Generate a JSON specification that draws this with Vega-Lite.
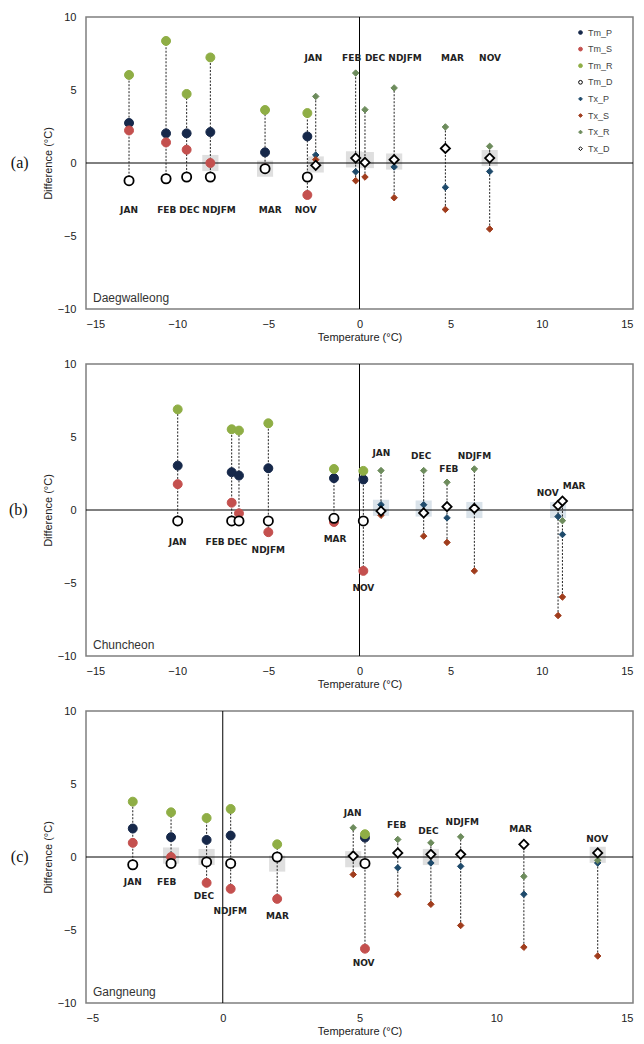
{
"$schema": "https://vega.github.io/schema/vega-lite/v6.json",
"padding": {"left": 8, "top": 10, "right": 2, "bottom": 4},
"background": "white",
"spacing": 55,
"bounds": "flush",
"resolve": {"scale": {"fill": "independent", "stroke": "independent", "shape": "independent"}, "legend": {"fill": "independent", "stroke": "independent", "shape": "independent"}},
"config": {
  "view": {"stroke": "#7f7f7f", "strokeWidth": 1.5},
  "axis": {"labelFont": "Liberation Sans", "labelFontSize": 11, "labelColor": "#222", "titleFont": "Liberation Sans", "titleFontSize": 11, "titleFontWeight": "normal", "titleColor": "#222", "ticks": false, "domain": false, "grid": false},
  "axisX": {"labelPadding": 9, "titlePadding": 2},
  "axisY": {"labelPadding": 10, "titlePadding": 4},
  "legend": {"labelFont": "Liberation Sans", "labelFontSize": 9, "labelColor": "#444", "symbolSize": 14, "symbolStrokeWidth": 1, "rowPadding": 6.6, "labelOffset": 3},
  "title": {"font": "Liberation Serif", "fontSize": 16, "fontWeight": "normal", "color": "#111"}
},
"datasets": {
  "box": [
    {"st":"a","t":-8.18,"d":0.0},
    {"st":"a","t":-5.18,"d":-0.39},
    {"st":"a","t":-2.4,"d":-0.1},
    {"st":"a","t":-0.3,"d":0.25},
    {"st":"a","t":0.35,"d":0.2},
    {"st":"a","t":1.9,"d":0.1},
    {"st":"a","t":7.14,"d":0.34},
    {"st":"b","t":1.18,"d":0.15},
    {"st":"b","t":3.52,"d":0.1},
    {"st":"b","t":6.3,"d":0.0},
    {"st":"b","t":10.89,"d":0.0},
    {"st":"c","t":-1.89,"d":0.1},
    {"st":"c","t":-0.59,"d":0.0},
    {"st":"c","t":1.99,"d":-0.45},
    {"st":"c","t":4.77,"d":-0.15},
    {"st":"c","t":7.61,"d":0.0},
    {"st":"c","t":13.71,"d":0.15}
  ],
  "pts": [
    {"st":"a","m":"JAN","k":"Tm","s":"Tm_P","t":-12.64,"d":2.74},
    {"st":"a","m":"JAN","k":"Tm","s":"Tm_S","t":-12.64,"d":2.23},
    {"st":"a","m":"JAN","k":"Tm","s":"Tm_R","t":-12.64,"d":6.03},
    {"st":"a","m":"JAN","k":"Tm","s":"Tm_D","t":-12.64,"d":-1.21},
    {"st":"a","m":"FEB","k":"Tm","s":"Tm_P","t":-10.61,"d":2.03},
    {"st":"a","m":"FEB","k":"Tm","s":"Tm_S","t":-10.61,"d":1.41},
    {"st":"a","m":"FEB","k":"Tm","s":"Tm_R","t":-10.61,"d":8.36},
    {"st":"a","m":"FEB","k":"Tm","s":"Tm_D","t":-10.61,"d":-1.08},
    {"st":"a","m":"DEC","k":"Tm","s":"Tm_P","t":-9.48,"d":2.03},
    {"st":"a","m":"DEC","k":"Tm","s":"Tm_S","t":-9.48,"d":0.91},
    {"st":"a","m":"DEC","k":"Tm","s":"Tm_R","t":-9.48,"d":4.73},
    {"st":"a","m":"DEC","k":"Tm","s":"Tm_D","t":-9.48,"d":-0.96},
    {"st":"a","m":"NDJFM","k":"Tm","s":"Tm_P","t":-8.18,"d":2.12},
    {"st":"a","m":"NDJFM","k":"Tm","s":"Tm_S","t":-8.18,"d":0.0},
    {"st":"a","m":"NDJFM","k":"Tm","s":"Tm_R","t":-8.18,"d":7.23},
    {"st":"a","m":"NDJFM","k":"Tm","s":"Tm_D","t":-8.18,"d":-0.96},
    {"st":"a","m":"MAR","k":"Tm","s":"Tm_P","t":-5.18,"d":0.73},
    {"st":"a","m":"MAR","k":"Tm","s":"Tm_S","t":-5.18,"d":-0.38},
    {"st":"a","m":"MAR","k":"Tm","s":"Tm_R","t":-5.18,"d":3.63},
    {"st":"a","m":"MAR","k":"Tm","s":"Tm_D","t":-5.18,"d":-0.39},
    {"st":"a","m":"NOV","k":"Tm","s":"Tm_P","t":-2.86,"d":1.82},
    {"st":"a","m":"NOV","k":"Tm","s":"Tm_S","t":-2.86,"d":-2.19},
    {"st":"a","m":"NOV","k":"Tm","s":"Tm_R","t":-2.86,"d":3.42},
    {"st":"a","m":"NOV","k":"Tm","s":"Tm_D","t":-2.86,"d":-0.96},
    {"st":"a","m":"JAN","k":"Tx","s":"Tx_P","t":-2.4,"d":0.55},
    {"st":"a","m":"JAN","k":"Tx","s":"Tx_S","t":-2.4,"d":0.23},
    {"st":"a","m":"JAN","k":"Tx","s":"Tx_R","t":-2.4,"d":4.56},
    {"st":"a","m":"JAN","k":"Tx","s":"Tx_D","t":-2.4,"d":-0.16},
    {"st":"a","m":"FEB","k":"Tx","s":"Tx_P","t":-0.21,"d":-0.6},
    {"st":"a","m":"FEB","k":"Tx","s":"Tx_S","t":-0.21,"d":-1.21},
    {"st":"a","m":"FEB","k":"Tx","s":"Tx_R","t":-0.21,"d":6.16},
    {"st":"a","m":"FEB","k":"Tx","s":"Tx_D","t":-0.21,"d":0.34},
    {"st":"a","m":"DEC","k":"Tx","s":"Tx_P","t":0.3,"d":0.1},
    {"st":"a","m":"DEC","k":"Tx","s":"Tx_S","t":0.3,"d":-0.96},
    {"st":"a","m":"DEC","k":"Tx","s":"Tx_R","t":0.3,"d":3.65},
    {"st":"a","m":"DEC","k":"Tx","s":"Tx_D","t":0.3,"d":0.04},
    {"st":"a","m":"NDJFM","k":"Tx","s":"Tx_P","t":1.9,"d":-0.27},
    {"st":"a","m":"NDJFM","k":"Tx","s":"Tx_S","t":1.9,"d":-2.38},
    {"st":"a","m":"NDJFM","k":"Tx","s":"Tx_R","t":1.9,"d":5.14},
    {"st":"a","m":"NDJFM","k":"Tx","s":"Tx_D","t":1.9,"d":0.23},
    {"st":"a","m":"MAR","k":"Tx","s":"Tx_P","t":4.71,"d":-1.67},
    {"st":"a","m":"MAR","k":"Tx","s":"Tx_S","t":4.71,"d":-3.18},
    {"st":"a","m":"MAR","k":"Tx","s":"Tx_R","t":4.71,"d":2.47},
    {"st":"a","m":"MAR","k":"Tx","s":"Tx_D","t":4.71,"d":1.0},
    {"st":"a","m":"NOV","k":"Tx","s":"Tx_P","t":7.14,"d":-0.58},
    {"st":"a","m":"NOV","k":"Tx","s":"Tx_S","t":7.14,"d":-4.52},
    {"st":"a","m":"NOV","k":"Tx","s":"Tx_R","t":7.14,"d":1.14},
    {"st":"a","m":"NOV","k":"Tx","s":"Tx_D","t":7.14,"d":0.34},

    {"st":"b","m":"JAN","k":"Tm","s":"Tm_P","t":-9.97,"d":3.04},
    {"st":"b","m":"JAN","k":"Tm","s":"Tm_S","t":-9.97,"d":1.77},
    {"st":"b","m":"JAN","k":"Tm","s":"Tm_R","t":-9.97,"d":6.89},
    {"st":"b","m":"JAN","k":"Tm","s":"Tm_D","t":-9.97,"d":-0.75},
    {"st":"b","m":"FEB","k":"Tm","s":"Tm_P","t":-7.01,"d":2.59},
    {"st":"b","m":"FEB","k":"Tm","s":"Tm_S","t":-7.01,"d":0.5},
    {"st":"b","m":"FEB","k":"Tm","s":"Tm_R","t":-7.01,"d":5.53},
    {"st":"b","m":"FEB","k":"Tm","s":"Tm_D","t":-7.01,"d":-0.75},
    {"st":"b","m":"DEC","k":"Tm","s":"Tm_P","t":-6.61,"d":2.36},
    {"st":"b","m":"DEC","k":"Tm","s":"Tm_S","t":-6.61,"d":-0.23},
    {"st":"b","m":"DEC","k":"Tm","s":"Tm_R","t":-6.61,"d":5.44},
    {"st":"b","m":"DEC","k":"Tm","s":"Tm_D","t":-6.61,"d":-0.75},
    {"st":"b","m":"NDJFM","k":"Tm","s":"Tm_P","t":-5.0,"d":2.86},
    {"st":"b","m":"NDJFM","k":"Tm","s":"Tm_S","t":-5.0,"d":-1.52},
    {"st":"b","m":"NDJFM","k":"Tm","s":"Tm_R","t":-5.0,"d":5.94},
    {"st":"b","m":"NDJFM","k":"Tm","s":"Tm_D","t":-5.0,"d":-0.75},
    {"st":"b","m":"MAR","k":"Tm","s":"Tm_P","t":-1.4,"d":2.18},
    {"st":"b","m":"MAR","k":"Tm","s":"Tm_S","t":-1.4,"d":-0.82},
    {"st":"b","m":"MAR","k":"Tm","s":"Tm_R","t":-1.4,"d":2.81},
    {"st":"b","m":"MAR","k":"Tm","s":"Tm_D","t":-1.4,"d":-0.57},
    {"st":"b","m":"NOV","k":"Tm","s":"Tm_P","t":0.21,"d":2.09},
    {"st":"b","m":"NOV","k":"Tm","s":"Tm_S","t":0.21,"d":-4.17},
    {"st":"b","m":"NOV","k":"Tm","s":"Tm_R","t":0.21,"d":2.68},
    {"st":"b","m":"NOV","k":"Tm","s":"Tm_D","t":0.21,"d":-0.75},
    {"st":"b","m":"JAN","k":"Tx","s":"Tx_P","t":1.18,"d":0.36},
    {"st":"b","m":"JAN","k":"Tx","s":"Tx_S","t":1.18,"d":-0.36},
    {"st":"b","m":"JAN","k":"Tx","s":"Tx_R","t":1.18,"d":2.7},
    {"st":"b","m":"JAN","k":"Tx","s":"Tx_D","t":1.18,"d":-0.07},
    {"st":"b","m":"DEC","k":"Tx","s":"Tx_P","t":3.52,"d":0.36},
    {"st":"b","m":"DEC","k":"Tx","s":"Tx_S","t":3.52,"d":-1.79},
    {"st":"b","m":"DEC","k":"Tx","s":"Tx_R","t":3.52,"d":2.7},
    {"st":"b","m":"DEC","k":"Tx","s":"Tx_D","t":3.52,"d":-0.2},
    {"st":"b","m":"FEB","k":"Tx","s":"Tx_P","t":4.8,"d":-0.54},
    {"st":"b","m":"FEB","k":"Tx","s":"Tx_S","t":4.8,"d":-2.22},
    {"st":"b","m":"FEB","k":"Tx","s":"Tx_R","t":4.8,"d":1.9},
    {"st":"b","m":"FEB","k":"Tx","s":"Tx_D","t":4.8,"d":0.23},
    {"st":"b","m":"NDJFM","k":"Tx","s":"Tx_P","t":6.3,"d":0.08},
    {"st":"b","m":"NDJFM","k":"Tx","s":"Tx_S","t":6.3,"d":-4.17},
    {"st":"b","m":"NDJFM","k":"Tx","s":"Tx_R","t":6.3,"d":2.81},
    {"st":"b","m":"NDJFM","k":"Tx","s":"Tx_D","t":6.3,"d":0.11},
    {"st":"b","m":"NOV","k":"Tx","s":"Tx_P","t":10.89,"d":-0.45},
    {"st":"b","m":"NOV","k":"Tx","s":"Tx_S","t":10.89,"d":-7.23},
    {"st":"b","m":"NOV","k":"Tx","s":"Tx_R","t":10.89,"d":0.25},
    {"st":"b","m":"NOV","k":"Tx","s":"Tx_D","t":10.89,"d":0.32},
    {"st":"b","m":"MAR","k":"Tx","s":"Tx_P","t":11.13,"d":-1.68},
    {"st":"b","m":"MAR","k":"Tx","s":"Tx_S","t":11.13,"d":-5.96},
    {"st":"b","m":"MAR","k":"Tx","s":"Tx_R","t":11.13,"d":-0.73},
    {"st":"b","m":"MAR","k":"Tx","s":"Tx_D","t":11.13,"d":0.61},

    {"st":"c","m":"JAN","k":"Tm","s":"Tm_P","t":-3.29,"d":1.95},
    {"st":"c","m":"JAN","k":"Tm","s":"Tm_S","t":-3.29,"d":0.97},
    {"st":"c","m":"JAN","k":"Tm","s":"Tm_R","t":-3.29,"d":3.79},
    {"st":"c","m":"JAN","k":"Tm","s":"Tm_D","t":-3.29,"d":-0.53},
    {"st":"c","m":"FEB","k":"Tm","s":"Tm_P","t":-1.89,"d":1.36},
    {"st":"c","m":"FEB","k":"Tm","s":"Tm_S","t":-1.89,"d":0.0},
    {"st":"c","m":"FEB","k":"Tm","s":"Tm_R","t":-1.89,"d":3.06},
    {"st":"c","m":"FEB","k":"Tm","s":"Tm_D","t":-1.89,"d":-0.44},
    {"st":"c","m":"DEC","k":"Tm","s":"Tm_P","t":-0.59,"d":1.17},
    {"st":"c","m":"DEC","k":"Tm","s":"Tm_S","t":-0.59,"d":-1.77},
    {"st":"c","m":"DEC","k":"Tm","s":"Tm_R","t":-0.59,"d":2.67},
    {"st":"c","m":"DEC","k":"Tm","s":"Tm_D","t":-0.59,"d":-0.34},
    {"st":"c","m":"NDJFM","k":"Tm","s":"Tm_P","t":0.29,"d":1.47},
    {"st":"c","m":"NDJFM","k":"Tm","s":"Tm_S","t":0.29,"d":-2.18},
    {"st":"c","m":"NDJFM","k":"Tm","s":"Tm_R","t":0.29,"d":3.29},
    {"st":"c","m":"NDJFM","k":"Tm","s":"Tm_D","t":0.29,"d":-0.44},
    {"st":"c","m":"MAR","k":"Tm","s":"Tm_P","t":1.99,"d":0.0},
    {"st":"c","m":"MAR","k":"Tm","s":"Tm_S","t":1.99,"d":-2.87},
    {"st":"c","m":"MAR","k":"Tm","s":"Tm_R","t":1.99,"d":0.87},
    {"st":"c","m":"MAR","k":"Tm","s":"Tm_D","t":1.99,"d":0.0},
    {"st":"c","m":"NOV","k":"Tm","s":"Tm_P","t":5.2,"d":1.33},
    {"st":"c","m":"NOV","k":"Tm","s":"Tm_S","t":5.2,"d":-6.28},
    {"st":"c","m":"NOV","k":"Tm","s":"Tm_R","t":5.2,"d":1.56},
    {"st":"c","m":"NOV","k":"Tm","s":"Tm_D","t":5.2,"d":-0.44},
    {"st":"c","m":"JAN","k":"Tx","s":"Tx_P","t":4.77,"d":0.0},
    {"st":"c","m":"JAN","k":"Tx","s":"Tx_S","t":4.77,"d":-1.2},
    {"st":"c","m":"JAN","k":"Tx","s":"Tx_R","t":4.77,"d":2.0},
    {"st":"c","m":"JAN","k":"Tx","s":"Tx_D","t":4.77,"d":0.07},
    {"st":"c","m":"FEB","k":"Tx","s":"Tx_P","t":6.4,"d":-0.74},
    {"st":"c","m":"FEB","k":"Tx","s":"Tx_S","t":6.4,"d":-2.55},
    {"st":"c","m":"FEB","k":"Tx","s":"Tx_R","t":6.4,"d":1.2},
    {"st":"c","m":"FEB","k":"Tx","s":"Tx_D","t":6.4,"d":0.28},
    {"st":"c","m":"DEC","k":"Tx","s":"Tx_P","t":7.61,"d":-0.41},
    {"st":"c","m":"DEC","k":"Tx","s":"Tx_S","t":7.61,"d":-3.24},
    {"st":"c","m":"DEC","k":"Tx","s":"Tx_R","t":7.61,"d":0.97},
    {"st":"c","m":"DEC","k":"Tx","s":"Tx_D","t":7.61,"d":0.18},
    {"st":"c","m":"NDJFM","k":"Tx","s":"Tx_P","t":8.7,"d":-0.64},
    {"st":"c","m":"NDJFM","k":"Tx","s":"Tx_S","t":8.7,"d":-4.69},
    {"st":"c","m":"NDJFM","k":"Tx","s":"Tx_R","t":8.7,"d":1.38},
    {"st":"c","m":"NDJFM","k":"Tx","s":"Tx_D","t":8.7,"d":0.18},
    {"st":"c","m":"MAR","k":"Tx","s":"Tx_P","t":11.01,"d":-2.55},
    {"st":"c","m":"MAR","k":"Tx","s":"Tx_S","t":11.01,"d":-6.18},
    {"st":"c","m":"MAR","k":"Tx","s":"Tx_R","t":11.01,"d":-1.33},
    {"st":"c","m":"MAR","k":"Tx","s":"Tx_D","t":11.01,"d":0.87},
    {"st":"c","m":"NOV","k":"Tx","s":"Tx_P","t":13.71,"d":-0.41},
    {"st":"c","m":"NOV","k":"Tx","s":"Tx_S","t":13.71,"d":-6.78},
    {"st":"c","m":"NOV","k":"Tx","s":"Tx_R","t":13.71,"d":-0.23},
    {"st":"c","m":"NOV","k":"Tx","s":"Tx_D","t":13.71,"d":0.28}
  ],
  "lab": [
    {"st":"a","m":"JAN","t":-12.64,"d":-3.2},
    {"st":"a","m":"FEB","t":-10.57,"d":-3.2},
    {"st":"a","m":"DEC","t":-9.33,"d":-3.2},
    {"st":"a","m":"NDJFM","t":-7.7,"d":-3.2},
    {"st":"a","m":"MAR","t":-4.9,"d":-3.2},
    {"st":"a","m":"NOV","t":-2.95,"d":-3.2},
    {"st":"a","m":"JAN","t":-2.53,"d":7.16},
    {"st":"a","m":"FEB","t":-0.43,"d":7.16},
    {"st":"a","m":"DEC","t":0.85,"d":7.16},
    {"st":"a","m":"NDJFM","t":2.5,"d":7.16},
    {"st":"a","m":"MAR","t":5.1,"d":7.16},
    {"st":"a","m":"NOV","t":7.16,"d":7.16},
    {"st":"b","m":"JAN","t":-9.97,"d":-2.22},
    {"st":"b","m":"FEB","t":-7.92,"d":-2.22},
    {"st":"b","m":"DEC","t":-6.7,"d":-2.22},
    {"st":"b","m":"NDJFM","t":-5.0,"d":-2.77},
    {"st":"b","m":"MAR","t":-1.34,"d":-2.0},
    {"st":"b","m":"NOV","t":0.21,"d":-5.35},
    {"st":"b","m":"JAN","t":1.2,"d":3.9},
    {"st":"b","m":"DEC","t":3.38,"d":3.72},
    {"st":"b","m":"FEB","t":4.9,"d":2.81},
    {"st":"b","m":"NDJFM","t":6.3,"d":3.72},
    {"st":"b","m":"NOV","t":10.32,"d":1.16},
    {"st":"b","m":"MAR","t":11.77,"d":1.61},
    {"st":"c","m":"JAN","t":-3.29,"d":-1.68},
    {"st":"c","m":"FEB","t":-2.05,"d":-1.68},
    {"st":"c","m":"DEC","t":-0.69,"d":-2.69},
    {"st":"c","m":"NDJFM","t":0.27,"d":-3.72},
    {"st":"c","m":"MAR","t":2.0,"d":-4.02},
    {"st":"c","m":"NOV","t":5.15,"d":-7.29},
    {"st":"c","m":"JAN","t":4.75,"d":2.99},
    {"st":"c","m":"FEB","t":6.36,"d":2.21},
    {"st":"c","m":"DEC","t":7.52,"d":1.77},
    {"st":"c","m":"NDJFM","t":8.76,"d":2.39},
    {"st":"c","m":"MAR","t":10.89,"d":1.95},
    {"st":"c","m":"NOV","t":13.69,"d":1.26}
  ]
},
"vconcat": [
{
  "width": 547, "height": 292,
  "title": {"text": "(a)", "orient": "left", "angle": 0, "align": "right", "baseline": "middle", "anchor": "middle", "offset": -4},
  "layer": [
    {"data": {"name": "box"}, "transform": [{"filter": "datum.st == 'a'"}],
     "mark": {"type": "square", "size": 260, "color": "#dcdcdc", "opacity": 0.9},
     "encoding": {"x": {"field": "t", "type": "quantitative", "scale": {"domain": [-15, 15], "nice": false}}, "y": {"field": "d", "type": "quantitative", "scale": {"domain": [-10, 10], "nice": false}}}},
    {"data": {"values": [{}]}, "mark": {"type": "rule", "color": "#000", "strokeWidth": 1},
     "encoding": {"y": {"datum": 0, "type": "quantitative", "scale": {"domain": [-10, 10], "nice": false}, "axis": {"values": [-10, -5, 0, 5, 10], "title": "Difference (°C)"}}}},
    {"data": {"values": [{}]}, "mark": {"type": "rule", "color": "#000", "strokeWidth": 1},
     "encoding": {"x": {"datum": 0, "type": "quantitative", "scale": {"domain": [-15, 15], "nice": false}, "axis": {"values": [-15, -10, -5, 0, 5, 10, 15], "title": "Temperature (°C)"}}}},
    {"data": {"name": "pts"},
     "transform": [{"filter": "datum.st == 'a'"}, {"aggregate": [{"op": "min", "field": "d", "as": "lo"}, {"op": "max", "field": "d", "as": "hi"}], "groupby": ["m", "k", "t"]}],
     "mark": {"type": "rule", "strokeDash": [2, 1.5], "color": "#222", "strokeWidth": 1},
     "encoding": {"x": {"field": "t", "type": "quantitative", "scale": {"domain": [-15, 15], "nice": false}}, "y": {"field": "lo", "type": "quantitative", "scale": {"domain": [-10, 10], "nice": false}}, "y2": {"field": "hi"}}},
    {"data": {"name": "pts"},
     "transform": [{"filter": "datum.st == 'a' && datum.k == 'Tm' && datum.s != 'Tm_D'"}],
     "mark": {"type": "point", "filled": true, "size": 80, "strokeWidth": 1, "opacity": 1},
     "encoding": {"x": {"field": "t", "type": "quantitative"}, "y": {"field": "d", "type": "quantitative"},
       "fill": {"field": "s", "type": "nominal", "title": null, "scale": {"domain": ["Tm_P","Tm_S","Tm_R","Tm_D","Tx_P","Tx_S","Tx_R","Tx_D"], "range": ["#16284a","#c4504e","#8fae45","#ffffff","#1e4a6b","#a03c1c","#6d8c5c","#ffffff"]}, "legend": {"orient": "none", "legendX": 490, "legendY": 11}},
       "stroke": {"field": "s", "type": "nominal", "title": null, "scale": {"domain": ["Tm_P","Tm_S","Tm_R","Tm_D","Tx_P","Tx_S","Tx_R","Tx_D"], "range": ["#16284a","#c4504e","#8fae45","#000000","#1e4a6b","#a03c1c","#6d8c5c","#000000"]}, "legend": {"orient": "none", "legendX": 490, "legendY": 11}},
       "shape": {"field": "s", "type": "nominal", "title": null, "scale": {"domain": ["Tm_P","Tm_S","Tm_R","Tm_D","Tx_P","Tx_S","Tx_R","Tx_D"], "range": ["circle","circle","circle","circle","diamond","diamond","diamond","diamond"]}, "legend": {"orient": "none", "legendX": 490, "legendY": 11}}}},
    {"data": {"name": "pts"},
     "transform": [{"filter": "datum.st == 'a' && datum.k == 'Tx' && datum.s != 'Tx_D'"}],
     "mark": {"type": "point", "filled": true, "size": 42, "strokeWidth": 1, "opacity": 1},
     "encoding": {"x": {"field": "t", "type": "quantitative"}, "y": {"field": "d", "type": "quantitative"},
       "fill": {"field": "s", "type": "nominal", "title": null, "legend": {"orient": "none", "legendX": 490, "legendY": 11}},
       "stroke": {"field": "s", "type": "nominal", "title": null, "legend": {"orient": "none", "legendX": 490, "legendY": 11}},
       "shape": {"field": "s", "type": "nominal", "title": null, "legend": {"orient": "none", "legendX": 490, "legendY": 11}}}},
    {"data": {"name": "pts"},
     "transform": [{"filter": "datum.st == 'a' && (datum.s == 'Tm_D' || datum.s == 'Tx_D')"}],
     "mark": {"type": "point", "filled": true, "size": 85, "strokeWidth": 1.8, "opacity": 1},
     "encoding": {"x": {"field": "t", "type": "quantitative"}, "y": {"field": "d", "type": "quantitative"},
       "fill": {"field": "s", "type": "nominal", "title": null, "legend": {"orient": "none", "legendX": 490, "legendY": 11}},
       "stroke": {"field": "s", "type": "nominal", "title": null, "legend": {"orient": "none", "legendX": 490, "legendY": 11}},
       "shape": {"field": "s", "type": "nominal", "title": null, "legend": {"orient": "none", "legendX": 490, "legendY": 11}}}},
    {"data": {"name": "lab"},
     "transform": [{"filter": "datum.st == 'a'"}],
     "mark": {"type": "text", "font": "DejaVu Sans", "fontWeight": "bold", "fontSize": 9, "color": "#222", "align": "center", "baseline": "middle"},
     "encoding": {"x": {"field": "t", "type": "quantitative"}, "y": {"field": "d", "type": "quantitative"}, "text": {"field": "m"}}},
    {"data": {"values": [{"name": "Daegwalleong"}]},
     "mark": {"type": "text", "font": "Liberation Sans", "fontSize": 12, "color": "#333", "align": "left", "baseline": "bottom", "dx": 7, "dy": -4},
     "encoding": {"x": {"datum": -15, "type": "quantitative"}, "y": {"datum": -10, "type": "quantitative"}, "text": {"field": "name"}}}
  ]
},
{
  "width": 547, "height": 292,
  "title": {"text": "(b)", "orient": "left", "angle": 0, "align": "right", "baseline": "middle", "anchor": "middle", "offset": -4},
  "layer": [
    {"data": {"name": "box"}, "transform": [{"filter": "datum.st == 'b'"}],
     "mark": {"type": "square", "size": 260, "color": "#d6e0e8", "opacity": 0.9},
     "encoding": {"x": {"field": "t", "type": "quantitative", "scale": {"domain": [-15, 15], "nice": false}}, "y": {"field": "d", "type": "quantitative", "scale": {"domain": [-10, 10], "nice": false}}}},
    {"data": {"values": [{}]}, "mark": {"type": "rule", "color": "#000", "strokeWidth": 1},
     "encoding": {"y": {"datum": 0, "type": "quantitative", "scale": {"domain": [-10, 10], "nice": false}, "axis": {"values": [-10, -5, 0, 5, 10], "title": "Difference (°C)"}}}},
    {"data": {"values": [{}]}, "mark": {"type": "rule", "color": "#000", "strokeWidth": 1},
     "encoding": {"x": {"datum": 0, "type": "quantitative", "scale": {"domain": [-15, 15], "nice": false}, "axis": {"values": [-15, -10, -5, 0, 5, 10, 15], "title": "Temperature (°C)"}}}},
    {"data": {"name": "pts"},
     "transform": [{"filter": "datum.st == 'b'"}, {"aggregate": [{"op": "min", "field": "d", "as": "lo"}, {"op": "max", "field": "d", "as": "hi"}], "groupby": ["m", "k", "t"]}],
     "mark": {"type": "rule", "strokeDash": [2, 1.5], "color": "#222", "strokeWidth": 1},
     "encoding": {"x": {"field": "t", "type": "quantitative", "scale": {"domain": [-15, 15], "nice": false}}, "y": {"field": "lo", "type": "quantitative", "scale": {"domain": [-10, 10], "nice": false}}, "y2": {"field": "hi"}}},
    {"data": {"name": "pts"},
     "transform": [{"filter": "datum.st == 'b' && datum.k == 'Tm' && datum.s != 'Tm_D'"}],
     "mark": {"type": "point", "filled": true, "size": 80, "strokeWidth": 1, "opacity": 1},
     "encoding": {"x": {"field": "t", "type": "quantitative"}, "y": {"field": "d", "type": "quantitative"},
       "fill": {"field": "s", "type": "nominal", "legend": null, "scale": {"domain": ["Tm_P","Tm_S","Tm_R","Tm_D","Tx_P","Tx_S","Tx_R","Tx_D"], "range": ["#16284a","#c4504e","#8fae45","#ffffff","#1e4a6b","#a03c1c","#6d8c5c","#ffffff"]}},
       "stroke": {"field": "s", "type": "nominal", "legend": null, "scale": {"domain": ["Tm_P","Tm_S","Tm_R","Tm_D","Tx_P","Tx_S","Tx_R","Tx_D"], "range": ["#16284a","#c4504e","#8fae45","#000000","#1e4a6b","#a03c1c","#6d8c5c","#000000"]}},
       "shape": {"field": "s", "type": "nominal", "legend": null, "scale": {"domain": ["Tm_P","Tm_S","Tm_R","Tm_D","Tx_P","Tx_S","Tx_R","Tx_D"], "range": ["circle","circle","circle","circle","diamond","diamond","diamond","diamond"]}}}},
    {"data": {"name": "pts"},
     "transform": [{"filter": "datum.st == 'b' && datum.k == 'Tx' && datum.s != 'Tx_D'"}],
     "mark": {"type": "point", "filled": true, "size": 42, "strokeWidth": 1, "opacity": 1},
     "encoding": {"x": {"field": "t", "type": "quantitative"}, "y": {"field": "d", "type": "quantitative"},
       "fill": {"field": "s", "type": "nominal", "legend": null},
       "stroke": {"field": "s", "type": "nominal", "legend": null},
       "shape": {"field": "s", "type": "nominal", "legend": null}}},
    {"data": {"name": "pts"},
     "transform": [{"filter": "datum.st == 'b' && (datum.s == 'Tm_D' || datum.s == 'Tx_D')"}],
     "mark": {"type": "point", "filled": true, "size": 85, "strokeWidth": 1.8, "opacity": 1},
     "encoding": {"x": {"field": "t", "type": "quantitative"}, "y": {"field": "d", "type": "quantitative"},
       "fill": {"field": "s", "type": "nominal", "legend": null},
       "stroke": {"field": "s", "type": "nominal", "legend": null},
       "shape": {"field": "s", "type": "nominal", "legend": null}}},
    {"data": {"name": "lab"},
     "transform": [{"filter": "datum.st == 'b'"}],
     "mark": {"type": "text", "font": "DejaVu Sans", "fontWeight": "bold", "fontSize": 9, "color": "#222", "align": "center", "baseline": "middle"},
     "encoding": {"x": {"field": "t", "type": "quantitative"}, "y": {"field": "d", "type": "quantitative"}, "text": {"field": "m"}}},
    {"data": {"values": [{"name": "Chuncheon"}]},
     "mark": {"type": "text", "font": "Liberation Sans", "fontSize": 12, "color": "#333", "align": "left", "baseline": "bottom", "dx": 7, "dy": -4},
     "encoding": {"x": {"datum": -15, "type": "quantitative"}, "y": {"datum": -10, "type": "quantitative"}, "text": {"field": "name"}}}
  ]
},
{
  "width": 547, "height": 292,
  "title": {"text": "(c)", "orient": "left", "angle": 0, "align": "right", "baseline": "middle", "anchor": "middle", "offset": -4},
  "layer": [
    {"data": {"name": "box"}, "transform": [{"filter": "datum.st == 'c'"}],
     "mark": {"type": "square", "size": 260, "color": "#dcdcdc", "opacity": 0.9},
     "encoding": {"x": {"field": "t", "type": "quantitative", "scale": {"domain": [-5, 15], "nice": false}}, "y": {"field": "d", "type": "quantitative", "scale": {"domain": [-10, 10], "nice": false}}}},
    {"data": {"values": [{}]}, "mark": {"type": "rule", "color": "#000", "strokeWidth": 1},
     "encoding": {"y": {"datum": 0, "type": "quantitative", "scale": {"domain": [-10, 10], "nice": false}, "axis": {"values": [-10, -5, 0, 5, 10], "title": "Difference (°C)"}}}},
    {"data": {"values": [{}]}, "mark": {"type": "rule", "color": "#000", "strokeWidth": 1},
     "encoding": {"x": {"datum": 0, "type": "quantitative", "scale": {"domain": [-5, 15], "nice": false}, "axis": {"values": [-5, 0, 5, 10, 15], "title": "Temperature (°C)"}}}},
    {"data": {"name": "pts"},
     "transform": [{"filter": "datum.st == 'c'"}, {"aggregate": [{"op": "min", "field": "d", "as": "lo"}, {"op": "max", "field": "d", "as": "hi"}], "groupby": ["m", "k", "t"]}],
     "mark": {"type": "rule", "strokeDash": [2, 1.5], "color": "#222", "strokeWidth": 1},
     "encoding": {"x": {"field": "t", "type": "quantitative", "scale": {"domain": [-5, 15], "nice": false}}, "y": {"field": "lo", "type": "quantitative", "scale": {"domain": [-10, 10], "nice": false}}, "y2": {"field": "hi"}}},
    {"data": {"name": "pts"},
     "transform": [{"filter": "datum.st == 'c' && datum.k == 'Tm' && datum.s != 'Tm_D'"}],
     "mark": {"type": "point", "filled": true, "size": 80, "strokeWidth": 1, "opacity": 1},
     "encoding": {"x": {"field": "t", "type": "quantitative"}, "y": {"field": "d", "type": "quantitative"},
       "fill": {"field": "s", "type": "nominal", "legend": null, "scale": {"domain": ["Tm_P","Tm_S","Tm_R","Tm_D","Tx_P","Tx_S","Tx_R","Tx_D"], "range": ["#16284a","#c4504e","#8fae45","#ffffff","#1e4a6b","#a03c1c","#6d8c5c","#ffffff"]}},
       "stroke": {"field": "s", "type": "nominal", "legend": null, "scale": {"domain": ["Tm_P","Tm_S","Tm_R","Tm_D","Tx_P","Tx_S","Tx_R","Tx_D"], "range": ["#16284a","#c4504e","#8fae45","#000000","#1e4a6b","#a03c1c","#6d8c5c","#000000"]}},
       "shape": {"field": "s", "type": "nominal", "legend": null, "scale": {"domain": ["Tm_P","Tm_S","Tm_R","Tm_D","Tx_P","Tx_S","Tx_R","Tx_D"], "range": ["circle","circle","circle","circle","diamond","diamond","diamond","diamond"]}}}},
    {"data": {"name": "pts"},
     "transform": [{"filter": "datum.st == 'c' && datum.k == 'Tx' && datum.s != 'Tx_D'"}],
     "mark": {"type": "point", "filled": true, "size": 42, "strokeWidth": 1, "opacity": 1},
     "encoding": {"x": {"field": "t", "type": "quantitative"}, "y": {"field": "d", "type": "quantitative"},
       "fill": {"field": "s", "type": "nominal", "legend": null},
       "stroke": {"field": "s", "type": "nominal", "legend": null},
       "shape": {"field": "s", "type": "nominal", "legend": null}}},
    {"data": {"name": "pts"},
     "transform": [{"filter": "datum.st == 'c' && (datum.s == 'Tm_D' || datum.s == 'Tx_D')"}],
     "mark": {"type": "point", "filled": true, "size": 85, "strokeWidth": 1.8, "opacity": 1},
     "encoding": {"x": {"field": "t", "type": "quantitative"}, "y": {"field": "d", "type": "quantitative"},
       "fill": {"field": "s", "type": "nominal", "legend": null},
       "stroke": {"field": "s", "type": "nominal", "legend": null},
       "shape": {"field": "s", "type": "nominal", "legend": null}}},
    {"data": {"name": "lab"},
     "transform": [{"filter": "datum.st == 'c'"}],
     "mark": {"type": "text", "font": "DejaVu Sans", "fontWeight": "bold", "fontSize": 9, "color": "#222", "align": "center", "baseline": "middle"},
     "encoding": {"x": {"field": "t", "type": "quantitative"}, "y": {"field": "d", "type": "quantitative"}, "text": {"field": "m"}}},
    {"data": {"values": [{"name": "Gangneung"}]},
     "mark": {"type": "text", "font": "Liberation Sans", "fontSize": 12, "color": "#333", "align": "left", "baseline": "bottom", "dx": 7, "dy": -4},
     "encoding": {"x": {"datum": -5, "type": "quantitative"}, "y": {"datum": -10, "type": "quantitative"}, "text": {"field": "name"}}}
  ]
}
]
}
